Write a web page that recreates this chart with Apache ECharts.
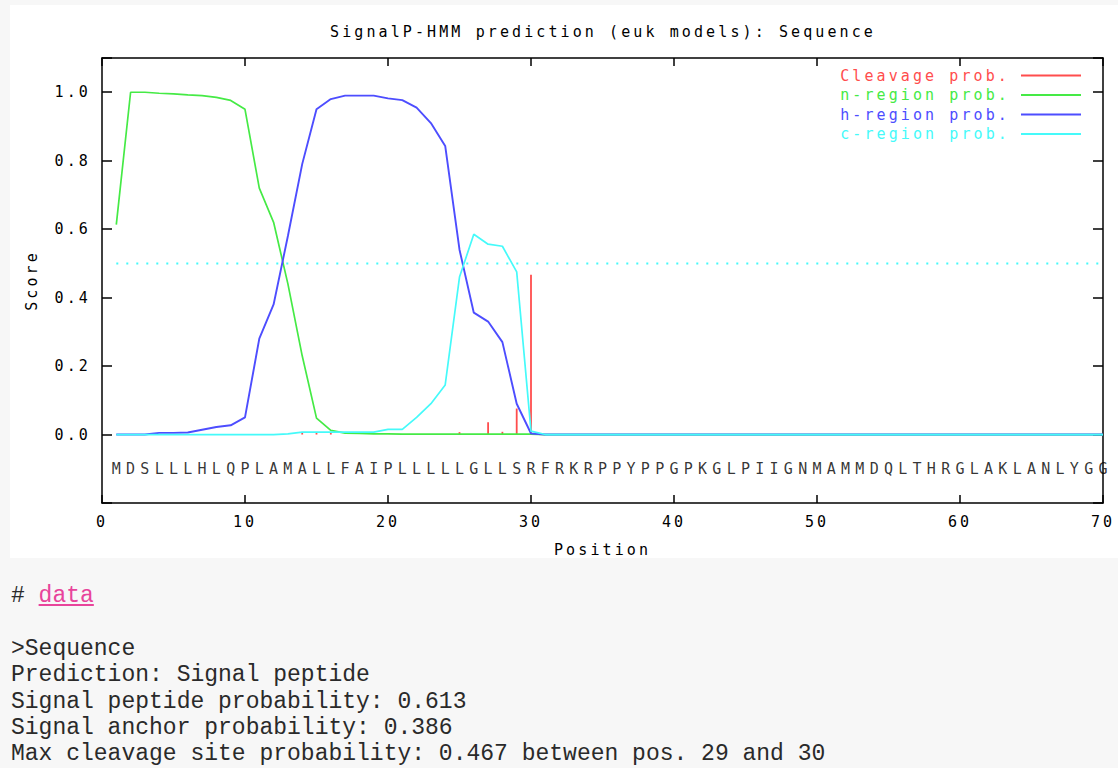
<!DOCTYPE html>
<html>
<head>
<meta charset="utf-8">
<script src="https://cdn.jsdelivr.net/npm/echarts@6/dist/echarts.min.js"></script>
<style>
  html, body { margin:0; padding:0; background:#f7f7f7; width:1118px; height:768px; overflow:hidden; }
  #panel { position:absolute; left:10px; top:5px; width:1108px; height:553px; background:#ffffff; }
  #chart { position:absolute; left:0; top:0; width:1118px; height:558px; }
  #chart text { letter-spacing:3.1px; }
  #info { position:absolute; left:11px; top:583px; margin:0; font-family:"Liberation Mono", "DejaVu Sans Mono", monospace;
          font-size:23px; line-height:26.4px; color:#2a2a2a; white-space:pre; }
  #info a { color:#e8449b; text-decoration:underline; }
</style>
</head>
<body>
<div id="panel"></div>
<div id="chart"></div>
<div id="info"></div>
<script>
// ---------- data ----------
const titleText = 'SignalP-HMM prediction (euk models): Sequence';
const sequenceName = 'Sequence';
const sequence = 'MDSLLLHLQPLAMALLFAIPLLLLLGLLSRFRKRPPYPPGPKGLPIIGNMAMMDQLTHRGLAKLANLYGG'.split('');
const seriesNames = ['Cleavage prob.', 'n-region prob.', 'h-region prob.', 'c-region prob.'];
const xTicks = { min: 0, max: 70, interval: 10 };
const yTicks = { min: -0.2, max: 1.1, interval: 0.2 };

const cleavageProb = [
  0,0,0,0,0,0,0,0,0,0,
  0,0,0,0.005,0.005,0.005,0,0,0,0,
  0,0,0,0,0.007,0,0.036,0.008,0.076,0.467,
  0,0,0,0,0,0,0,0,0,0,
  0,0,0,0,0,0,0,0,0,0,
  0,0,0,0,0,0,0,0,0,0,
  0,0,0,0,0,0,0,0,0,0
];
const nRegionProb = [
  0.613,1.0,1.0,0.997,0.995,0.992,0.99,0.985,0.976,0.95,
  0.72,0.62,0.44,0.23,0.048,0.012,0.004,0.003,0.002,0.002,
  0.001,0.001,0.001,0.001,0.001,0.001,0.001,0.001,0.001,0.001,
  0,0,0,0,0,0,0,0,0,0,
  0,0,0,0,0,0,0,0,0,0,
  0,0,0,0,0,0,0,0,0,0,
  0,0,0,0,0,0,0,0,0,0
];
const hRegionProb = [
  0,0,0,0.005,0.005,0.006,0.014,0.022,0.027,0.05,
  0.28,0.38,0.58,0.79,0.95,0.98,0.99,0.99,0.99,0.982,
  0.977,0.955,0.91,0.843,0.54,0.356,0.33,0.27,0.09,0.003,
  0,0,0,0,0,0,0,0,0,0,
  0,0,0,0,0,0,0,0,0,0,
  0,0,0,0,0,0,0,0,0,0,
  0,0,0,0,0,0,0,0,0,0
];
const cRegionProb = [
  0,0,0,0,0,0,0,0,0,0,
  0,0,0.002,0.007,0.007,0.007,0.007,0.007,0.007,0.015,
  0.015,0.05,0.09,0.145,0.46,0.585,0.556,0.55,0.475,0.01,
  0,0,0,0,0,0,0,0,0,0,
  0,0,0,0,0,0,0,0,0,0,
  0,0,0,0,0,0,0,0,0,0,
  0,0,0,0,0,0,0,0,0,0
];
const thresholdValue = 0.5;
const thresholdRange = [1, 70];
const sequenceRowY = -0.1;

const signalPeptideProb = 0.613;
const signalAnchorProb = 0.386;
const maxCleavageProb = 0.467;
const cleavageSite = [29, 30];

// ---------- styles ----------
const FONT = '"DejaVu Sans Mono", monospace';
const FS = 15;
const colors = ['#ff4d4d', '#45ea45', '#4d4dff', '#45fafa'];
const axisColor = '#000';

const toPairs = arr => arr.map((v, i) => [i + 1, v]);

const baseX = {
  type: 'value', min: xTicks.min, max: xTicks.max, interval: xTicks.interval,
  splitLine: { show: false },
  axisLine: { onZero: false, lineStyle: { color: axisColor, width: 1.5 } },
  axisTick: { inside: true, length: 8, lineStyle: { color: axisColor, width: 1.5 } }
};
const baseY = {
  type: 'value', min: yTicks.min, max: yTicks.max, interval: yTicks.interval,
  splitLine: { show: false },
  axisLine: { onZero: false, lineStyle: { color: axisColor, width: 1.5 } },
  axisTick: { inside: true, length: 10, lineStyle: { color: axisColor, width: 1.5 } }
};

const chart = echarts.init(document.getElementById('chart'), null, { renderer: 'svg' });
chart.setOption({
  animation: false,
  textStyle: { fontFamily: FONT },
  title: {
    text: titleText, left: 603, top: 24, textAlign: 'center', padding: 0,
    textStyle: { fontFamily: FONT, fontSize: FS, fontWeight: 'normal', color: '#000' }
  },
  legend: {
    orient: 'vertical', right: 37, top: 68, align: 'right', padding: 0,
    itemWidth: 60, itemHeight: 2, itemGap: 4.5, icon: 'rect', selectedMode: false,
    textStyle: { fontFamily: FONT, fontSize: FS, lineHeight: 14, padding: [0, 6, 0, 0] },
    data: seriesNames.map((n, i) => ({ name: n, textStyle: { color: colors[i] } }))
  },
  grid: { left: 102, right: 15, top: 58, bottom: 55, containLabel: false, outerBoundsMode: 'none' },
  xAxis: [
    Object.assign({}, baseX, {
      position: 'bottom', name: 'Position', nameLocation: 'middle', nameGap: 39,
      nameTextStyle: { fontFamily: FONT, fontSize: FS, color: '#000' },
      axisLabel: { margin: 11, fontFamily: FONT, fontSize: FS, color: '#000' }
    }),
    Object.assign({}, baseX, { position: 'top', axisLabel: { show: false } })
  ],
  yAxis: [
    Object.assign({}, baseY, {
      position: 'left', name: 'Score', nameLocation: 'middle', nameGap: 63,
      nameTextStyle: { fontFamily: FONT, fontSize: FS, color: '#000' },
      axisLabel: {
        margin: 11, fontFamily: FONT, fontSize: FS, color: '#000',
        formatter: v => (v < -1e-6 || v > 1.0 + 1e-6) ? '' : v.toFixed(1)
      }
    }),
    Object.assign({}, baseY, { position: 'right', axisLabel: { show: false } })
  ],
  series: [
    {
      name: 'threshold', type: 'line', silent: true, symbol: 'none', z: 1,
      data: thresholdRange.map(x => [x, thresholdValue]),
      lineStyle: { color: colors[3], width: 2, type: [2, 8] }
    },
    {
      name: seriesNames[0], type: 'bar', barWidth: 1.8, z: 2,
      data: toPairs(cleavageProb), itemStyle: { color: colors[0] }
    },
    {
      name: seriesNames[1], type: 'line', symbol: 'none', z: 3,
      data: toPairs(nRegionProb), itemStyle: { color: colors[1] },
      lineStyle: { color: colors[1], width: 1.7 }
    },
    {
      name: seriesNames[2], type: 'line', symbol: 'none', z: 4,
      data: toPairs(hRegionProb), itemStyle: { color: colors[2] },
      lineStyle: { color: colors[2], width: 1.9 }
    },
    {
      name: seriesNames[3], type: 'line', symbol: 'none', z: 5,
      data: toPairs(cRegionProb), itemStyle: { color: colors[3] },
      lineStyle: { color: colors[3], width: 1.7 }
    },
    {
      name: 'sequence', type: 'scatter', silent: true, symbolSize: 1, z: 6,
      itemStyle: { color: 'rgba(0,0,0,0)' },
      data: sequence.map((s, i) => [i + 1, sequenceRowY, s]),
      label: {
        show: true, position: 'inside', offset: [1.5, 0],
        formatter: p => p.data[2],
        fontFamily: FONT, fontSize: FS, color: '#000'
      }
    }
  ]
});

// ---------- summary text below the plot ----------
const info = document.getElementById('info');
info.innerHTML =
  '# <a>data</a>\n\n' +
  '&gt;' + sequenceName + '\n' +
  'Prediction: Signal peptide\n' +
  'Signal peptide probability: ' + signalPeptideProb.toFixed(3) + '\n' +
  'Signal anchor probability: ' + signalAnchorProb.toFixed(3) + '\n' +
  'Max cleavage site probability: ' + maxCleavageProb.toFixed(3) +
  ' between pos. ' + cleavageSite[0] + ' and ' + cleavageSite[1];
</script>
</body>
</html>
